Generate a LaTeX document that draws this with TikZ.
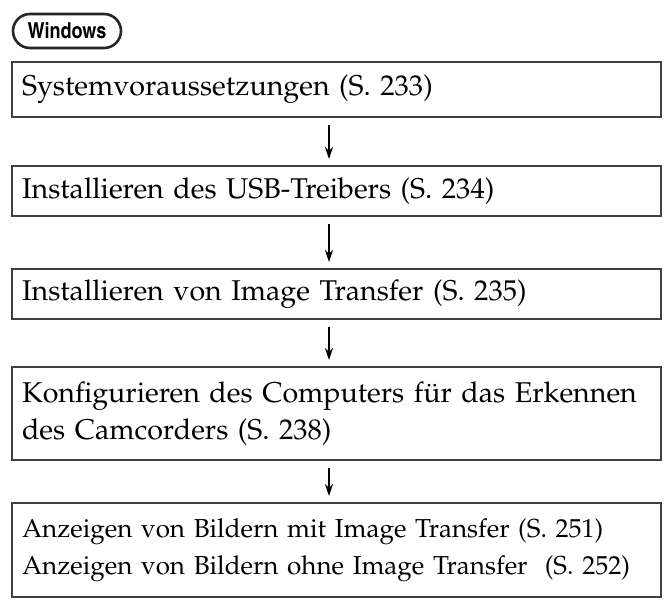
\documentclass[tikz,border=0pt]{standalone}
\usepackage[T1]{fontenc}
\usepackage{mathpazo}
\usepackage{tikz}
\usetikzlibrary{arrows.meta}

\begin{document}
\begin{tikzpicture}[
  x=0.5pt,
  y=-0.5pt,
  stepbox/.style={draw=black!75, line width=1pt, minimum width=324.5pt, inner xsep=5pt, inner ysep=0pt,
    text width=314.5pt, align=left, font=\fontsize{14.3}{18.5}\selectfont},
  badge/.style={draw=black!85, line width=1.3pt, rounded corners=8.5pt, minimum width=54pt, minimum height=17pt,
    inner sep=0pt, font=\fontfamily{phv}\fontseries{bc}\selectfont\fontsize{11}{11}\selectfont},
  arr/.style={-{Stealth[length=6pt, width=4pt]}, line width=0.7pt, shorten <=3.5pt, shorten >=3pt},
]
\useasboundingbox (0,0) rectangle (668,601);

% Header
\node[badge] (win) at (67,31) {Windows};

% Steps
\node[stepbox, minimum height=27.5pt] (s1) at (336.5,89.5) {Systemvoraussetzungen (S.~233)};
\node[stepbox, minimum height=25pt] (s2) at (336.5,191) {Installieren des USB-Treibers (S.~234)};
\node[stepbox, minimum height=25pt] (s3) at (336.5,294) {Installieren von Image Transfer (S.~235)};
\node[stepbox, minimum height=46.5pt] (s4) at (336.5,413.5) {Konfigurieren des Computers f\"ur das Erkennen des Camcorders (S.~238)};
\node[stepbox, minimum height=47pt, font=\fontsize{13}{18.5}\selectfont] (s5) at (336.5,550)
  {Anzeigen von Bildern mit Image Transfer (S.~251)\\
   Anzeigen von Bildern ohne Image Transfer\ \ (S.~252)};

% Arrows
\foreach \a/\b in {s1/s2,s2/s3,s3/s4,s4/s5}
  \draw[arr] ([xshift=-3.75pt]\a.south) -- ([xshift=-3.75pt]\b.north);

\end{tikzpicture}
\end{document}
